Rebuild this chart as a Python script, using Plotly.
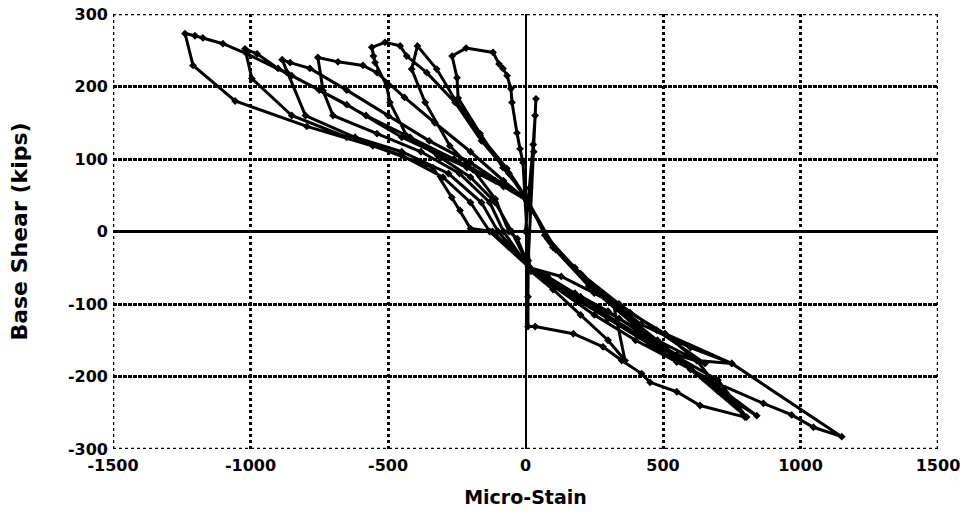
import plotly.graph_objects as go

# Base shear vs. micro-strain record, written out cycle by cycle
strain_elastic = [0, 15, 28, 35, 38, 30, 18, 10, 9, 9, 35, 174, 282, 350, 422, 453, 550, 635, 798]
shear_elastic = [0, 60, 120, 160, 183, 110, 30, -40, -90, -131, -131, -141, -159, -178, -196, -208, -221, -240, -256]

strain_c1 = [700, 623, 507, 380, 250, 130, 15, 5, -9, -20, -31, -49, -53, -67, -82, -96, -118, -216, -267, -249, -245, -165, -82, 5,
             70, 180, 318, 362]
shear_c1 = [-215, -178, -141, -112, -85, -62, -50, 0, 95, 114, 136, 178, 197, 215, 225, 231, 247, 253, 242, 212, 184, 135, 88, 47,
            -5, -50, -97, -178]

strain_c2 = [300, 200, 100, 20, -30, -60, -110, -190, -275, -365, -414, -393, -323, -250, -165, -68, 5,
             80, 200, 340, 477, 653]
shear_c2 = [-150, -115, -80, -55, -10, 0, 45, 85, 118, 178, 224, 256, 224, 178, 132, 87, 45,
            -10, -58, -100, -136, -182]

strain_c3 = [550, 420, 300, 180, 60, 12, -50, -110, -200, -320, -432, -493, -505, -547, -553, -559, -511, -456, -432, -359, -256,
             -160, -60, 5, 90, 210, 350, 507, 750]
shear_c3 = [-170, -140, -110, -85, -60, -48, 0, 40, 75, 105, 132, 178, 201, 233, 242, 254, 261, 256, 242, 219, 178,
            125, 80, 43, -15, -62, -105, -141, -182]

strain_c4 = [623, 480, 340, 200, 80, 12, -80, -130, -240, -380, -540, -700, -736, -755, -682, -591, -540, -440, -330, -200, -80, 5,
             100, 220, 380, 560, 700, 841]
shear_c4 = [-178, -150, -120, -90, -62, -50, 0, 40, 80, 110, 135, 160, 194, 240, 234, 229, 219, 185, 150, 110, 70, 43,
            -20, -68, -120, -175, -220, -254]

strain_c5 = [720, 600, 450, 300, 150, 20, -100, -160, -280, -450, -620, -800, -867, -885, -856, -784, -650, -500, -350, -200, -80, 5,
             100, 230, 400, 600, 804]
shear_c5 = [-220, -190, -155, -120, -85, -52, 0, 40, 80, 110, 130, 160, 219, 237, 233, 225, 195, 160, 125, 95, 65, 42,
            -22, -75, -130, -190, -256]

strain_c6 = [700, 560, 400, 250, 100, 15, -130, -200, -300, -450, -650, -850, -995, -1020, -976, -900, -750, -580, -420, -260, -110, 5,
             110, 250, 420, 600, 750, 1150]
shear_c6 = [-205, -175, -140, -105, -70, -50, 0, 40, 75, 105, 130, 160, 211, 252, 245, 225, 195, 160, 130, 100, 70, 44,
            -25, -80, -128, -160, -182, -283]

strain_c7 = [1047, 968, 865, 700, 550, 400, 250, 100, 10, -120, -200, -238, -268, -336, -555, -795, -1056, -1209, -1238, -1202,
             -1173, -1100, -1013, -850, -650, -450, -213, -80, 5]
shear_c7 = [-270, -253, -237, -210, -180, -150, -115, -75, -48, 0, 4, 29, 47, 88, 118, 145, 180, 229, 273, 270,
            267, 259, 245, 215, 175, 130, 88, 62, 43]

strain = (strain_elastic + strain_c1 + strain_c2 + strain_c3 + strain_c4
          + strain_c5 + strain_c6 + strain_c7)
shear = (shear_elastic + shear_c1 + shear_c2 + shear_c3 + shear_c4
         + shear_c5 + shear_c6 + shear_c7)

x_ticks = [-1500, -1000, -500, 0, 500, 1000, 1500]
y_ticks = [-300, -200, -100, 0, 100, 200, 300]

FONT = "DejaVu Sans, Arial, sans-serif"

fig = go.Figure()
fig.add_trace(go.Scatter(
    x=strain, y=shear, mode="lines+markers",
    line=dict(color="black", width=3),
    marker=dict(symbol="diamond", size=6, color="black"),
    showlegend=False,
))

# Dotted frame around the plotting area
for x0, y0, x1, y1 in [(-1500, 300, 1500, 300), (-1500, -300, 1500, -300),
                       (-1500, -300, -1500, 300), (1500, -300, 1500, 300)]:
    fig.add_shape(type="line", xref="x", yref="y", x0=x0, y0=y0, x1=x1, y1=y1,
                  line=dict(color="black", width=2.5, dash="dot"), layer="below")

fig.update_layout(
    width=969, height=515,
    margin=dict(l=113, r=31, t=14, b=66, autoexpand=False),
    paper_bgcolor="white", plot_bgcolor="white",
    font=dict(family=FONT, color="black"),
)
fig.update_xaxes(
    range=[-1500, 1500], tickvals=x_ticks, ticktext=[f"<b>{v}</b>" for v in x_ticks],
    showgrid=True, gridcolor="black", gridwidth=2.5, griddash="dot",
    zeroline=True, zerolinecolor="black", zerolinewidth=2,
    showline=False, ticks="", ticklabelstandoff=5, automargin=False,
    tickfont=dict(family=FONT, size=16, color="black"),
    title=dict(text="<b>Micro-Stain</b>", font=dict(family=FONT, size=19), standoff=16),
)
fig.update_yaxes(
    range=[-300, 300], tickvals=y_ticks, ticktext=[f"<b>{v}</b>" for v in y_ticks],
    showgrid=True, gridcolor="black", gridwidth=2.5, griddash="4px,1px",
    zeroline=True, zerolinecolor="black", zerolinewidth=3,
    showline=False, ticks="", ticklabelstandoff=4, automargin=False,
    tickfont=dict(family=FONT, size=16, color="black"),
    title=dict(text="<b>Base Shear (kips)</b>", font=dict(family=FONT, size=22), standoff=34),
)

fig.write_html("out.html")
